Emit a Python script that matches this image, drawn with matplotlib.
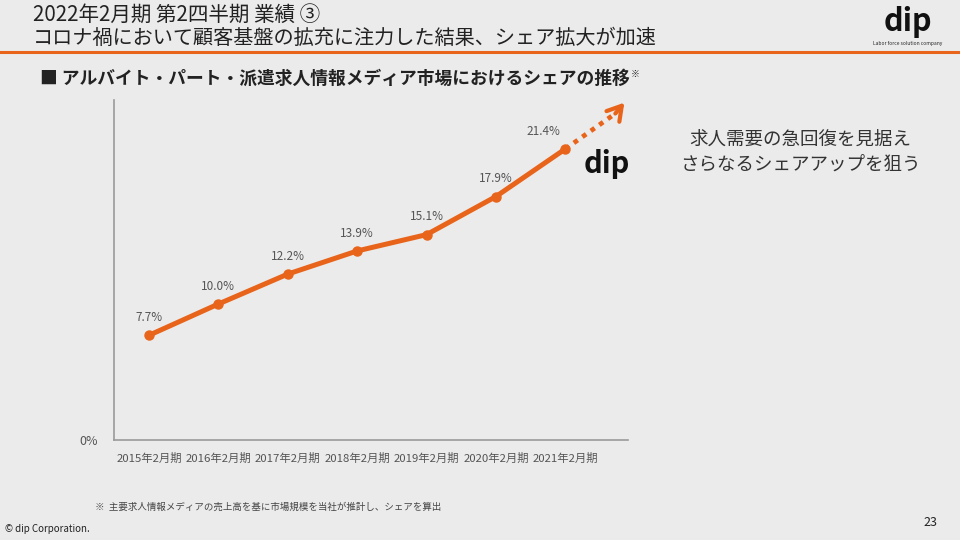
import matplotlib
matplotlib.use('Agg')
import matplotlib.pyplot as plt

plt.rcParams['font.family'] = ['Noto Sans CJK JP', 'DejaVu Sans']

# data
periods = ['2015年2月期', '2016年2月期', '2017年2月期', '2018年2月期',
           '2019年2月期', '2020年2月期', '2021年2月期']
share = [7.7, 10.0, 12.2, 13.9, 15.1, 17.9, 21.4]
labels = ['7.7%', '10.0%', '12.2%', '13.9%', '15.1%', '17.9%', '21.4%']
arrow_end = (6.85, 24.8)

orange = '#e8641b'
bg = '#ebebeb'
grey = '#555555'

fig = plt.figure(figsize=(9.6, 5.4), dpi=100, facecolor=bg)
ax = fig.add_axes([0.119, 0.185, 0.535, 0.63])
ax.set_facecolor(bg)

x = list(range(len(periods)))
ax.plot(x, share, color=orange, lw=3.6, marker='o', ms=6.5, mfc=orange, mec=orange, solid_capstyle='round')

# dotted extension + open arrow head
ax.plot([x[-1], 6.72], [share[-1], 24.0], color=orange, lw=3.4, ls=(0, (1, 1.2)))
ax.annotate('', xy=arrow_end, xytext=(6.72, 24.0),
            arrowprops=dict(arrowstyle='->,head_length=1.0,head_width=0.6', lw=3, color=orange,
                            shrinkA=0, shrinkB=0))

for i, (v, t) in enumerate(zip(share, labels)):
    dx = -0.32 if i == len(share) - 1 else 0
    ax.text(i + dx, v + 1.3, t, ha='center', va='center', fontsize=8.5, color=grey)

ax.text(6.6, 20.3, 'dip', ha='center', va='center', fontsize=21, fontweight='bold', color='#111111')

ax.set_xlim(-0.5, 6.9)
ax.set_ylim(0, 25)
ax.set_xticks(x)
ax.set_xticklabels(periods, fontsize=8.2, color=grey)
ax.set_yticks([0])
ax.set_yticklabels(['0%'], fontsize=9, color=grey)
ax.tick_params(axis='x', length=0, pad=9)
ax.tick_params(axis='y', length=0, pad=12)
for s in ['top', 'right']:
    ax.spines[s].set_visible(False)
for s in ['left', 'bottom']:
    ax.spines[s].set_color('#9a9a9a')
    ax.spines[s].set_linewidth(1.2)

# header
fig.text(33 / 960, 1 - 15 / 540, '2022年2月期 第2四半期 業績 ③', fontsize=14.8, color='#222222', va='center')
fig.text(33 / 960, 1 - 38 / 540, 'コロナ禍において顧客基盤の拡充に注力した結果、シェア拡大が加速', fontsize=14.5,
         color='#222222', va='center')
fig.add_artist(plt.Line2D([0, 1], [1 - 52 / 540] * 2, color=orange, lw=2.2))
fig.text(908 / 960, 1 - 22 / 540, 'dip', fontsize=22, fontweight='bold', ha='center', va='center', color='#111111')
fig.text(908 / 960, 1 - 44 / 540, 'Labor force solution company', fontsize=3.5, ha='center', va='center',
         color='#222222')

sub = fig.text(40 / 960, 1 - 79 / 540, '■ アルバイト・パート・派遣求人情報メディア市場におけるシェアの推移',
               fontsize=12.8, fontweight='bold', color='#222222', va='center')
fig.canvas.draw()
bb = sub.get_window_extent()
fig.text(bb.x1 / 960 + 1 / 960, 1 - 74 / 540, '※', fontsize=6.5, color='#222222', va='center')

fig.text(800 / 960, 1 - 152 / 540, '求人需要の急回復を見据え\nさらなるシェアアップを狙う', fontsize=13.3,
         color='#333333', ha='center', va='center', linespacing=1.5)

fig.text(95 / 960, 1 - 507 / 540, '※  主要求人情報メディアの売上高を基に市場規模を当社が推計し、シェアを算出',
         fontsize=6.8, color='#444444', va='center')
fig.text(5 / 960, 1 - 529 / 540, '© dip Corporation.', fontsize=7, color='#222222', va='center')
fig.text(930 / 960, 1 - 523 / 540, '23', fontsize=9, color='#222222', va='center', ha='center')

fig.savefig('out.png', dpi=100, facecolor=bg)
